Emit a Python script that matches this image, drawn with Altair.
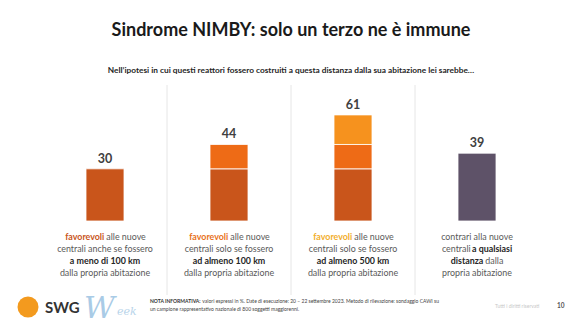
import altair as alt
import pandas as pd

# ---------------- data ----------------
TITLE = "Sindrome NIMBY: solo un terzo ne è immune"
SUBTITLE = ("Nell’ipotesi in cui questi reattori fossero costruiti a questa distanza "
            "dalla sua abitazione lei sarebbe…")

groups = ["a meno di 100 km", "ad almeno 100 km", "ad almeno 500 km", "a qualsiasi distanza"]
totals = [30, 44, 61, 39]

seg_group = [groups[0], groups[1], groups[1], groups[2], groups[2], groups[2], groups[3]]
seg_name = ["entro 100 km", "entro 100 km", "100-500 km", "entro 100 km", "100-500 km",
            "oltre 500 km", "contrari"]
seg_value = [30, 30, 14, 30, 14, 17, 39]
seg_names_order = ["entro 100 km", "100-500 km", "oltre 500 km", "contrari"]

# description under each bar: (group index, line, text, kind)
desc_group = [0, 0, 0, 0, 0,
              1, 1, 1, 1, 1,
              2, 2, 2, 2, 2,
              3, 3, 3, 3, 3, 3]
desc_line = [0, 0, 1, 2, 3,
             0, 0, 1, 2, 3,
             0, 0, 1, 2, 3,
             0, 1, 1, 2, 2, 3]
desc_text = ["favorevoli", "alle nuove", "centrali anche se fossero", "a meno di 100 km",
             "dalla propria abitazione",
             "favorevoli", "alle nuove", "centrali solo se fossero", "ad almeno 100 km",
             "dalla propria abitazione",
             "favorevoli", "alle nuove", "centrali solo se fossero", "ad almeno 500 km",
             "dalla propria abitazione",
             "contrari alla nuove", "centrali", "a qualsiasi", "distanza", "dalla",
             "propria abitazione"]
desc_kind = ["fav", "plain", "plain", "bold", "plain",
             "fav", "plain", "plain", "bold", "plain",
             "fav", "plain", "plain", "bold", "plain",
             "plain", "plain", "bold", "bold", "plain", "plain"]

NOTE_BOLD = "NOTA INFORMATIVA:"
NOTE_1 = ("valori espressi in %. Date di esecuzione: 20 – 22 settembre 2023. "
          "Metodo di rilevazione: sondaggio CAWI su")
NOTE_2 = "un campione rappresentativo nazionale di 800 soggetti maggiorenni."
RIGHTS = "Tutti i diritti riservati"
PAGE = "10"

# ---------------- style ----------------
FONT = "Lato"
SEG_COLORS = ["#C9551B", "#EE6B16", "#F6921E", "#5E5268"]
FAV_COLORS = ["#C9551B", "#E8711A", "#F2AE2C"]
GRAY = "#595959"
DARK = "#262626"
DESC_FS = 8.9

seg_df = pd.DataFrame({"grp": seg_group, "seg": seg_name, "val": seg_value})
seg_df["ord"] = seg_df["seg"].map(seg_names_order.index)
tot_df = pd.DataFrame({"grp": groups, "total": totals})
desc_df = pd.DataFrame({"idx": range(len(desc_text)), "grp": [groups[g] for g in desc_group],
                        "line": desc_line, "txt": desc_text, "kind": desc_kind,
                        "gi": desc_group})
div_df = pd.DataFrame({"grp": groups[:3]})

xenc = alt.X("grp:N", sort=groups,
             scale=alt.Scale(domain=groups, paddingInner=0, paddingOuter=0), axis=None)
yscale = alt.Scale(domain=[0, 78.2], nice=False, zero=True)


def est_width(s, fs, bold):
    table = {" ": 0.20, "i": 0.23, "l": 0.23, "j": 0.23, "f": 0.32, "r": 0.36, "t": 0.34,
             "s": 0.42, "c": 0.46, "z": 0.45, "m": 0.82, "w": 0.74, "v": 0.50, "a": 0.50,
             "e": 0.51, "g": 0.49, "I": 0.26, ":": 0.24}
    w = 0.0
    for ch in s:
        if ch in table:
            w += table[ch]
        elif ch.isdigit():
            w += 0.54
        elif ch.isupper():
            w += 0.64
        else:
            w += 0.55
    return w * fs * (1.04 if bold else 1.0)


layers = []

# dividers
layers.append(
    alt.Chart(div_df).mark_rule(color="#E6E6E6", strokeWidth=1).encode(
        x=alt.X("grp:N", sort=groups, bandPosition=1,
                scale=alt.Scale(domain=groups, paddingInner=0, paddingOuter=0), axis=None),
        y=alt.value(0), y2=alt.value(210))
)

# bars
layers.append(
    alt.Chart(seg_df).mark_bar(size=38, stroke="white", strokeWidth=0.8).encode(
        x=xenc,
        y=alt.Y("val:Q", stack="zero", scale=yscale, axis=None),
        color=alt.Color("seg:N", scale=alt.Scale(domain=seg_names_order, range=SEG_COLORS),
                        legend=None),
        order=alt.Order("ord:Q"))
)

# value labels
layers.append(
    alt.Chart(tot_df).mark_text(font=FONT, fontSize=12.5, fontWeight="bold", color="#404040",
                                baseline="alphabetic", dy=-6).encode(
        x=xenc, y=alt.Y("total:Q", scale=yscale, axis=None), text="total:Q")
)

# description lines
for g in range(len(groups)):
    for ln in range(4):
        parts = [i for i in range(len(desc_text)) if desc_group[i] == g and desc_line[i] == ln]
        if not parts:
            continue
        ypix = 152 + 12 * ln
        if len(parts) == 1:
            offsets = [(parts[0], 0, "center")]
        else:
            sp = 0.2 * DESC_FS
            ws = []
            for i in parts:
                w = est_width(desc_text[i], DESC_FS, desc_kind[i] != "plain")
                ws.append(w)
            total_w = sum(ws) + sp * (len(parts) - 1)
            cur = -total_w / 2
            offsets = []
            for i, w in zip(parts, ws):
                offsets.append((i, cur, "left"))
                cur += w + sp
        for i, dx, al in offsets:
            kind = desc_kind[i]
            if kind == "fav":
                col, fw = FAV_COLORS[g], "bold"
            elif kind == "bold":
                col, fw = DARK, "bold"
            else:
                col, fw = GRAY, "normal"
            layers.append(
                alt.Chart(desc_df).transform_filter(alt.datum.idx == i).mark_text(
                    font=FONT, fontSize=DESC_FS, fontWeight=fw, color=col, align=al,
                    baseline="middle", dx=dx).encode(
                    x=xenc, y=alt.value(ypix), text="txt:N")
            )

# title / subtitle
layers.append(
    alt.Chart(pd.DataFrame({"t": [TITLE]})).mark_text(
        font=FONT, fontSize=18, fontWeight="bold", color="#1A1A1A", align="center",
        baseline="alphabetic").encode(x=alt.value(248), y=alt.value(-49), text="t:N")
)
layers.append(
    alt.Chart(pd.DataFrame({"t": [SUBTITLE]})).mark_text(
        font=FONT, fontSize=8.3, fontWeight="bold", color="#262626", align="center",
        baseline="alphabetic").encode(x=alt.value(248), y=alt.value(-12), text="t:N")
)

# footer: logos
layers.append(
    alt.Chart(pd.DataFrame({"a": [1]})).mark_point(
        filled=True, shape="circle", size=440, color="#F39A1E", opacity=1).encode(
        x=alt.value(-15), y=alt.value(222))
)
layers.append(
    alt.Chart(pd.DataFrame({"t": ["SWG"]})).mark_text(
        font=FONT, fontSize=15, fontWeight="bold", color="#333333", align="left",
        baseline="alphabetic").encode(x=alt.value(2), y=alt.value(228), text="t:N")
)
layers.append(
    alt.Chart(pd.DataFrame({"t": ["W"]})).mark_text(
        font="DejaVu Serif", fontSize=30, fontStyle="italic", color="#A9CBE6", align="left",
        baseline="alphabetic").encode(x=alt.value(41), y=alt.value(233), text="t:N")
)
layers.append(
    alt.Chart(pd.DataFrame({"t": ["eek"]})).mark_text(
        font="DejaVu Serif", fontSize=11, fontStyle="italic", color="#B8D4EA", align="left",
        baseline="alphabetic").encode(x=alt.value(74), y=alt.value(230), text="t:N")
)

# footer: note
NOTE_FS = 5.0
nb_w = est_width(NOTE_BOLD + "  ", NOTE_FS, True) + 2
layers.append(
    alt.Chart(pd.DataFrame({"t": [NOTE_BOLD]})).mark_text(
        font=FONT, fontSize=NOTE_FS, fontWeight="bold", color="#333333", align="left",
        baseline="alphabetic").encode(x=alt.value(107), y=alt.value(218), text="t:N")
)
layers.append(
    alt.Chart(pd.DataFrame({"t": [NOTE_1]})).mark_text(
        font=FONT, fontSize=NOTE_FS, color="#444444", align="left",
        baseline="alphabetic", dx=nb_w).encode(x=alt.value(107), y=alt.value(218), text="t:N")
)
layers.append(
    alt.Chart(pd.DataFrame({"t": [NOTE_2]})).mark_text(
        font=FONT, fontSize=NOTE_FS, color="#444444", align="left",
        baseline="alphabetic").encode(x=alt.value(107), y=alt.value(226), text="t:N")
)
layers.append(
    alt.Chart(pd.DataFrame({"t": [RIGHTS]})).mark_text(
        font=FONT, fontSize=5, color="#C8C8C8", align="left",
        baseline="alphabetic").encode(x=alt.value(452), y=alt.value(223), text="t:N")
)
layers.append(
    alt.Chart(pd.DataFrame({"t": [PAGE]})).mark_text(
        font=FONT, fontSize=6.5, fontWeight="bold", color="#555555", align="left",
        baseline="alphabetic").encode(x=alt.value(514), y=alt.value(223), text="t:N")
)

chart = alt.layer(*layers).properties(
    width=496, height=136,
    padding={"left": 43, "top": 85, "right": 41, "bottom": 105},
    autosize="none",
    background="white",
).configure_view(stroke=None)

chart.save("out.html", embed_options={"renderer": "svg", "actions": False})
